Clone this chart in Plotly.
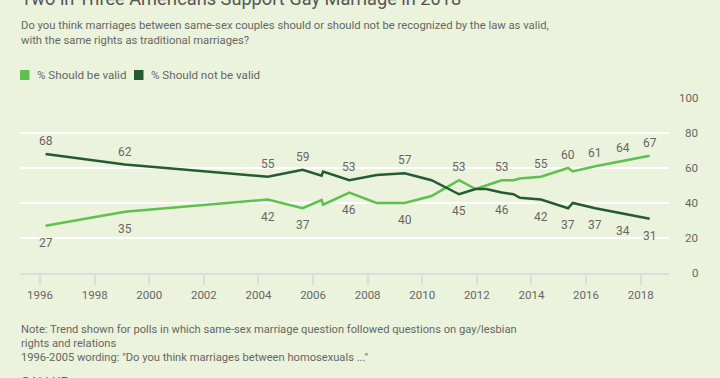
import plotly.graph_objects as go

# ---------------- data ----------------
poll_dates = ["1996-03-15", "1999-02-10", "2004-05-05", "2005-08-15",
              "2006-04-25",  # wording-change break marker
              "2006-05-15", "2007-05-01", "2008-05-01", "2009-05-10",
              "2010-05-05", "2011-05-08", "2011-12-15", "2012-05-05",
              "2012-11-28", "2013-05-05", "2013-07-30", "2014-05-08",
              "2015-05-06", "2015-07-08", "2016-05-04", "2017-05-03",
              "2018-05-01"]
should_be_valid = [27, 35, 42, 37, 41.7, 39, 46, 40, 40, 44, 53, 48, 50,
                   53, 53, 54, 55, 60, 58, 61, 64, 67]
should_not_be_valid = [68, 62, 55, 59, 55.6, 58, 53, 56, 57, 53, 45, 48, 48,
                       46, 45, 43, 42, 37, 40, 37, 34, 31]
labeled_idx = [0, 1, 2, 3, 6, 8, 10, 13, 16, 17, 19, 20, 21]
crossing_idx = 10  # from here on, "valid" labels go above
y_ticks = [0, 20, 40, 60, 80, 100]
x_tick_years = list(range(1996, 2019, 2))

title = "Two in Three Americans Support Gay Marriage in 2018"
subtitle = ["Do you think marriages between same-sex couples should or should not be recognized by the law as valid,",
            "with the same rights as traditional marriages?"]
notes = ["Note: Trend shown for polls in which same-sex marriage question followed questions on gay/lesbian",
         "rights and relations",
         "1996-2005 wording: \"Do you think marriages between homosexuals ...\""]
series_names = ["% Should be valid", "% Should not be valid"]

# ---------------- style ----------------
BG = "#EBF3DC"
GREEN = "#5EC04E"
DARK = "#245B32"
TXT = "#666666"
FONT = "Roboto"

W, H = 720, 378
L, R, T, B = 20, 51, 98, 105
PW, PH = W - L - R, H - T - B


def px_x(x):
    return (x - L) / PW


def px_y(y):
    return (H - B - y) / PH


fig = go.Figure()
fig.add_trace(go.Scatter(x=poll_dates, y=should_be_valid, mode="lines",
                         line=dict(color=GREEN, width=2.5), name=series_names[0],
                         showlegend=False, hoverinfo="skip"))
fig.add_trace(go.Scatter(x=poll_dates, y=should_not_be_valid, mode="lines",
                         line=dict(color=DARK, width=2.5), name=series_names[1],
                         showlegend=False, hoverinfo="skip"))

ann = []
for i in labeled_idx:
    up_valid = i >= crossing_idx
    ann.append(dict(x=poll_dates[i], y=should_be_valid[i], text=str(should_be_valid[i]),
                    showarrow=False, yshift=13 if up_valid else -17,
                    font=dict(size=12, color=TXT, family=FONT)))
    ann.append(dict(x=poll_dates[i], y=should_not_be_valid[i], text=str(should_not_be_valid[i]),
                    showarrow=False, yshift=-17 if up_valid else 13,
                    font=dict(size=12, color=TXT, family=FONT)))

for v in y_ticks:
    ann.append(dict(xref="paper", x=px_x(700), y=v, text=str(v), xanchor="right",
                    showarrow=False, font=dict(size=11.5, color=TXT, family=FONT)))

ann.append(dict(xref="paper", yref="paper", x=px_x(19), y=px_y(-2), text=title,
                xanchor="left", yanchor="middle", showarrow=False,
                font=dict(size=18.2, color="#555555", family=FONT)))
for k, line in enumerate(subtitle):
    ann.append(dict(xref="paper", yref="paper", x=px_x(19), y=px_y(25.5 + 15 * k), text=line,
                    xanchor="left", yanchor="middle", showarrow=False,
                    font=dict(size=11.25, color=TXT, family=FONT)))
for k, line in enumerate(notes):
    ann.append(dict(xref="paper", yref="paper", x=px_x(19), y=px_y(329 + 14 * k), text=line,
                    xanchor="left", yanchor="middle", showarrow=False,
                    font=dict(size=11.15, color=TXT, family=FONT)))
ann.append(dict(xref="paper", yref="paper", x=px_x(19), y=px_y(381), text="GALLUP",
                xanchor="left", yanchor="middle", showarrow=False,
                font=dict(size=13, color=TXT, family=FONT)))

# custom legend
shapes = []
legend_pos = [(20, 35), (134, 149)]
for (sq_x, tx_x), name, col in zip(legend_pos, series_names, [GREEN, DARK]):
    shapes.append(dict(type="rect", xref="paper", yref="paper",
                       x0=px_x(sq_x), x1=px_x(sq_x + 9.5), y0=px_y(80), y1=px_y(70),
                       fillcolor=col, line=dict(width=0)))
    ann.append(dict(xref="paper", yref="paper", x=px_x(tx_x), y=px_y(75), text=name,
                    xanchor="left", yanchor="middle", showarrow=False,
                    font=dict(size=11.6, color=TXT, family=FONT)))

fig.update_layout(
    width=W, height=H, margin=dict(l=L, r=R, t=T, b=B),
    paper_bgcolor=BG, plot_bgcolor=BG,
    showlegend=False,
    annotations=ann, shapes=shapes,
    font=dict(family=FONT, color=TXT),
    xaxis=dict(type="date", range=["1995-04-08", "2019-01-15"],
               tickvals=[f"{y}-01-01" for y in x_tick_years],
               ticktext=[str(y) for y in x_tick_years],
               showgrid=False, zeroline=False,
               showline=True, linecolor="#DCDCDC", linewidth=2,
               ticks="outside", ticklen=10, tickwidth=2, tickcolor="#DCDCDC",
               tickfont=dict(size=11.5, color=TXT, family=FONT)),
    yaxis=dict(range=[0, 100], tickvals=y_ticks, showticklabels=False,
               showgrid=True, gridcolor="white", gridwidth=2, zeroline=False,
               fixedrange=True),
)

# remove the page's default body margin so the figure sits at the window's top-left
fig.write_html("out.html", config={"displayModeBar": False},
               post_script="document.body.style.margin='0';")
